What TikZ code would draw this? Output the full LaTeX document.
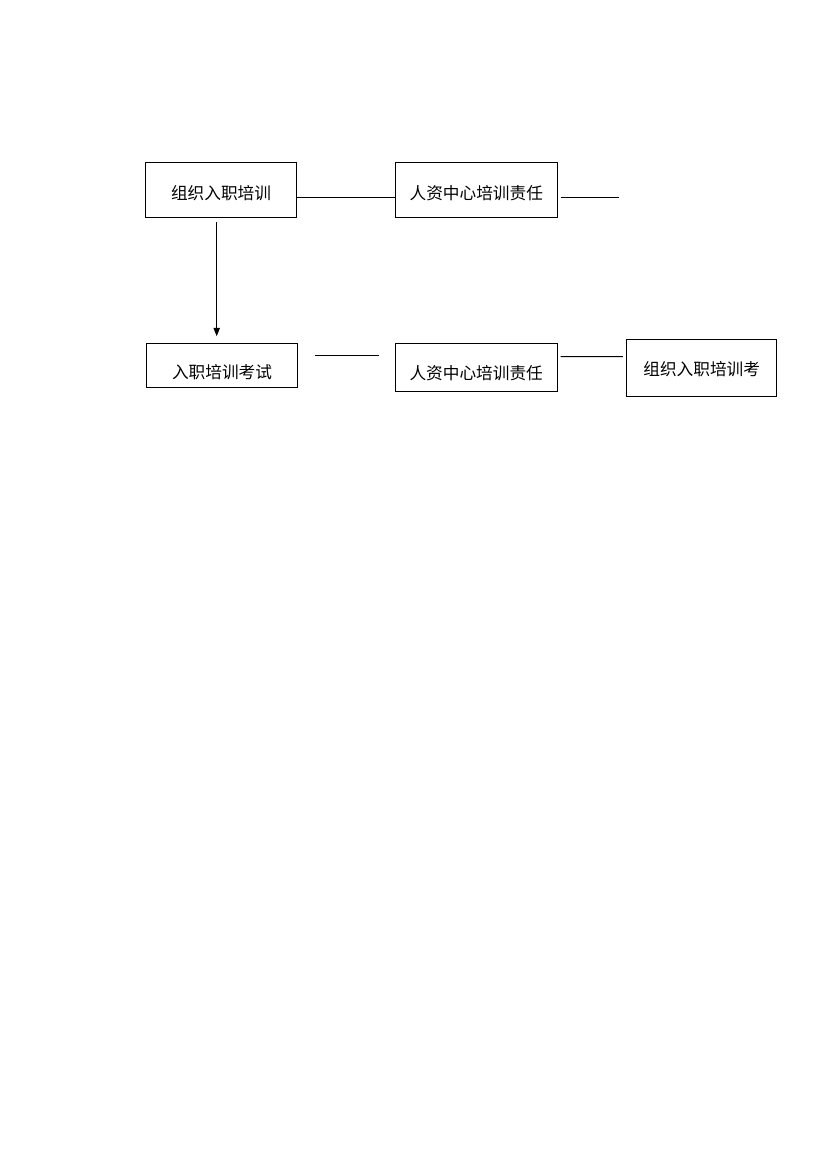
\documentclass[tikz,border=0pt]{standalone}
\usepackage{fontspec}
\newfontfamily\cjk{Noto Sans CJK SC}
\usepackage{tikz}
\usetikzlibrary{calc}
\usetikzlibrary{arrows.meta}

\def\pxu{0.72pt}
\tikzset{
  stagebox/.style={draw, line width=0.7pt, inner sep=0pt,
    font={\cjk\fontsize{12}{14}\selectfont},
    text height=#1, text depth=0pt},
  stagebox/.default=13.1pt,
  link/.style={line width=0.7pt}
}

\begin{document}
\begin{tikzpicture}[x=\pxu,y=-\pxu]
\useasboundingbox[fill=white] (0,0) rectangle (830,1173);

% Upper row
\node[stagebox, minimum width=150.6*\pxu, minimum height=55.4*\pxu] (train) at (221,190) {组织入职培训};
\node[stagebox, minimum width=162*\pxu, minimum height=55.4*\pxu] (hrtop) at (476.3,190) {人资中心培训责任};

% Lower row
\node[stagebox=18.4pt, minimum width=150.6*\pxu, minimum height=44*\pxu] (exam) at (222,365.3) {入职培训考试};
\node[stagebox=17.2pt, minimum width=162.3*\pxu, minimum height=48.4*\pxu] (hrlow) at (476.2,367.5) {人资中心培训责任};
\node[stagebox=11.1pt, minimum width=150*\pxu, minimum height=56.7*\pxu] (orgexam) at (701.7,367.7) {组织入职培训考};

% Loose line ends
\coordinate (topend) at (619,197.7);
\coordinate (midstart) at (315,355);
\coordinate (midend) at (379.3,355);
\coordinate (arrstart) at ($(train.south)+(-4.3,4)$);
\coordinate (arrend) at ($(exam.north)+(0,-6.6)$);

% Connectors
\draw[link] ($(train.east)+(0,7.7)$) -- ($(hrtop.west)+(1.4,7.7)$);
\draw[link] ($(hrtop.east)+(3.4,7.7)$) -- (topend);
\draw[link,-{Triangle[length=6pt,width=4.6pt]}] (arrstart) -- (arrstart |- arrend);
\draw[link] (midstart) -- (midend);
\draw[link] ($(hrlow.east)+(2.7,-10.8)$) -- ($(orgexam.west)+(-3.4,-11)$);
\end{tikzpicture}
\end{document}
